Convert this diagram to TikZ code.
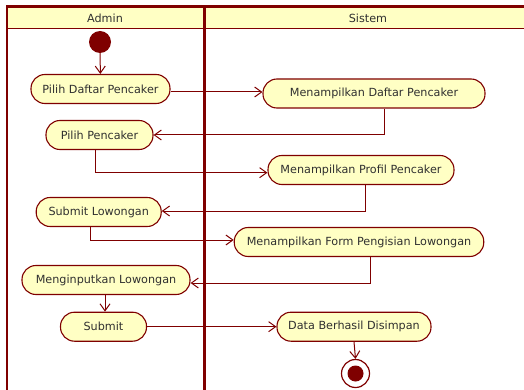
\documentclass[tikz,border=0pt]{standalone}
\usepackage{fontspec}
\setmainfont{DejaVu Sans}
\usetikzlibrary{arrows.meta}
\definecolor{umlred}{HTML}{7F0000}
\definecolor{umlfill}{HTML}{FFFFC4}
\definecolor{umltext}{HTML}{303030}
\begin{document}
\begin{tikzpicture}[x=1pt,y=-1pt,
  font=\fontsize{11.2}{13}\selectfont,
  act/.style={draw=umlred, fill=umlfill, line width=1.1pt, rounded corners=14pt,
    minimum height=29pt, inner sep=0pt, text=umltext},
  lanelabel/.style={text=umltext, inner sep=0pt},
  flow/.style={draw=umlred, line width=1pt, -{Straight Barb[length=7pt,width=10pt]}},
]
\useasboundingbox (0,0) rectangle (524,390);

% swimlanes
\begin{scope}
  \clip (0,0) rectangle (524,390);
  \fill[umlfill] (7,7) rectangle (530,28);
  \draw[umlred, line width=1.5pt] (7,28.3) -- (530,28.3);
  \draw[umlred, line width=2.5pt] (7,400) -- (7,6.7) -- (530,6.7);
  \draw[umlred, line width=3.5pt] (204.5,6.7) -- (204.5,400);
\end{scope}
\node[lanelabel] (hadmin) at (105,18) {Admin};
\node[lanelabel] (hsistem) at (368,18) {Sistem};

% start and end
\node[circle, fill=umlred, minimum size=22pt, inner sep=0pt] (start) at (100,42) {};
\node[circle, draw=umlred, line width=1.2pt, fill=white, minimum size=28pt, inner sep=0pt] (end) at (355.5,373.5) {};
\node[circle, fill=umlred, minimum size=16pt, inner sep=0pt] (endin) at (end.center) {};

% activities
\node[act, minimum width=139pt] (pdp) at (100.5,89) {Pilih Daftar Pencaker};
\node[act, minimum width=222pt] (mdp) at (374,93.5) {Menampilkan Daftar Pencaker};
\node[act, minimum width=107pt] (ppc) at (99.5,135) {Pilih Pencaker};
\node[act, minimum width=186pt] (mpp) at (361,170) {Menampilkan Profil Pencaker};
\node[act, minimum width=125pt] (sl) at (98.7,212) {Submit Lowongan};
\node[act, minimum width=249.5pt] (mfp) at (359,242) {Menampilkan Form Pengisian Lowongan};
\node[act, minimum width=168pt] (ml) at (106,280) {Menginputkan Lowongan};
\node[act, minimum width=86pt] (sub) at (103.5,326.7) {Submit};
\node[act, minimum width=154pt] (dbd) at (354,326.7) {Data Berhasil Disimpan};

% control flows
\draw[flow] (start) -- (pdp);
\draw[flow] ([yshift=-3pt]pdp.east) -- ([yshift=-3pt]pdp.east -| mdp.west);
\draw[flow] ([xshift=10.5pt]mdp.south) |- (ppc.east);
\draw[flow] ([xshift=-4.5pt]ppc.south) |- ([yshift=-2.7pt]mpp.west);
\draw[flow] ([xshift=4pt]mpp.south) |- ([yshift=1pt]sl.east);
\draw[flow] ([xshift=-8.7pt]sl.south) |- ([yshift=2pt]mfp.west);
\draw[flow] ([xshift=11pt]mfp.south) |- ([yshift=-3pt]ml.east);
\draw[flow] ([xshift=-1pt]ml.south) -- ([xshift=-1pt]ml.south |- sub.north);
\draw[flow] (sub.east) -- (dbd.west);
\draw[flow] (dbd.south) -- (end.north);
\end{tikzpicture}
\end{document}
